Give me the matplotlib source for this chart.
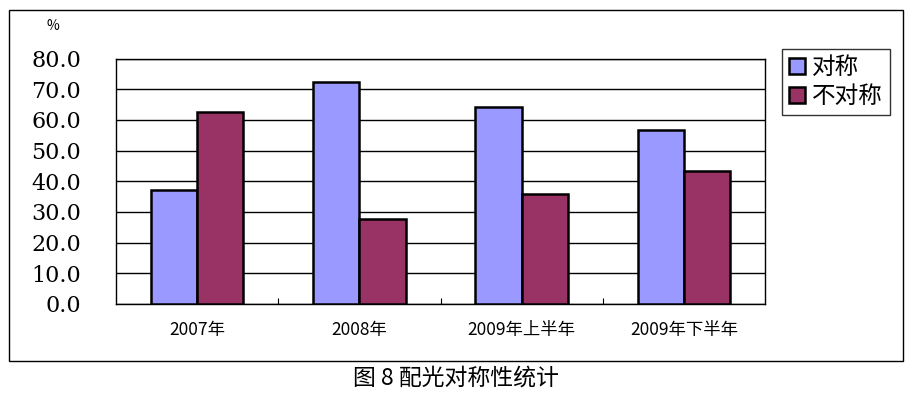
import matplotlib
matplotlib.use("Agg")
import matplotlib.pyplot as plt
import numpy as np
from matplotlib.patches import Rectangle

plt.rcParams['font.family'] = ['Noto Sans CJK SC', 'DejaVu Sans']

categories = ["2007年", "2008年", "2009年上半年", "2009年下半年"]
series_names = ["对称", "不对称"]
sym = [37.3, 72.4, 64.2, 56.7]
asym = [62.7, 27.6, 35.8, 43.3]
yticks = [0, 10, 20, 30, 40, 50, 60, 70, 80]
ytick_labels = ["0.0", "10.0", "20.0", "30.0", "40.0", "50.0", "60.0", "70.0", "80.0"]
colors = ["#9999FF", "#993366"]

W, H = 923, 393
fig = plt.figure(figsize=(W / 100, H / 100), dpi=100)

# outer border
fig.patches.append(Rectangle((9 / W, 1 - 361 / H), (903 - 9) / W, (361 - 10) / H,
                             transform=fig.transFigure, fill=False, edgecolor="black",
                             linewidth=1.0))

ax = fig.add_axes([116 / W, 1 - 304 / H, (765 - 116) / W, (304 - 58.5) / H])
x = np.arange(len(categories))
bw = 1 / 3.5
ax.bar(x - bw / 2, sym, width=bw, color=colors[0], edgecolor="black", linewidth=1.8,
       label=series_names[0], zorder=3)
ax.bar(x + bw / 2, asym, width=bw, color=colors[1], edgecolor="black", linewidth=1.8,
       label=series_names[1], zorder=3)

ax.set_xlim(-0.5, len(categories) - 0.5)
ax.set_ylim(0, 80)
ax.set_yticks(yticks)
ax.set_yticklabels(ytick_labels, family=['DejaVu Serif'], fontsize=16)
ax.tick_params(axis='y', length=0, pad=25)
ax.yaxis.grid(True, color="black", linewidth=1.0, zorder=0)
ax.set_axisbelow(True)

ax.set_xticks(x)
ax.set_xticklabels(categories, fontsize=12.5)
ax.tick_params(axis='x', length=0, pad=12)
# minor ticks at category boundaries
ax.set_xticks(np.arange(0.5, len(categories) - 0.5, 1), minor=True)
ax.tick_params(axis='x', which='minor', direction='in', length=4, width=0.8)

for s in ax.spines.values():
    s.set_linewidth(1.0)
    s.set_color("black")

fig.text(53 / W, 1 - 26 / H, "%", fontsize=10, ha='center', va='center')

leg = ax.legend(loc='upper left', bbox_to_anchor=(782 / W, 1 - 49 / H),
                bbox_transform=fig.transFigure, fontsize=17, frameon=True,
                fancybox=False, edgecolor="black", handlelength=0.68, handleheight=0.68,
                handletextpad=0.3, borderpad=0.3, labelspacing=0.25, borderaxespad=0)
leg.get_frame().set_linewidth(1.0)

fig.text(456 / W, 1 - 378 / H, "图 8 配光对称性统计", fontsize=16.5,
         ha='center', va='center')

fig.savefig("out.png", dpi=100)
